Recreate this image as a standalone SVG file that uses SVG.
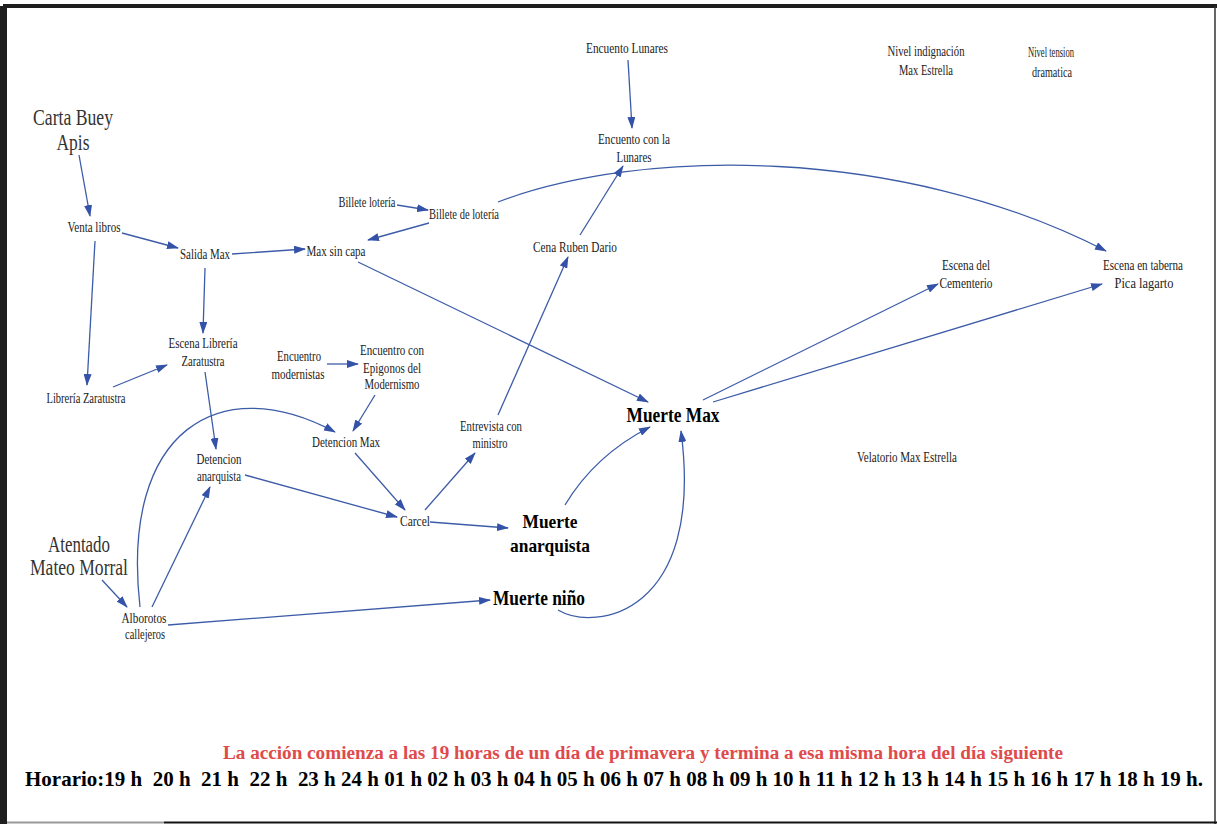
<svg xmlns="http://www.w3.org/2000/svg" width="1217" height="824" viewBox="0 0 1217 824">
<style>
.lbl{font-family:"Liberation Serif","Times New Roman",serif;font-size:14px;fill:#222;text-anchor:middle}
.big{font-size:23px;fill:#333}
.bold{font-weight:bold;fill:#000;font-size:21px}
.c{fill:none;stroke:#3d5ca8;stroke-width:1.3;marker-end:url(#ah)}
.red{font-family:"Liberation Serif","Times New Roman",serif;font-weight:bold;font-size:18px;fill:#df4a4a;text-anchor:middle}
.hor{font-family:"Liberation Serif","Times New Roman",serif;font-weight:bold;font-size:21px;fill:#000}
</style>
<defs>
<marker id="ah" markerUnits="userSpaceOnUse" markerWidth="12" markerHeight="8" refX="11" refY="4" orient="auto">
<path d="M0,0 L12,4 L0,8 z" fill="#3352a8"/>
</marker>
</defs>
<rect width="1217" height="824" fill="#fff"/>
<g id="frame">
<rect x="0" y="6" width="7" height="818" fill="#1e1e1e"/>
<rect x="3" y="4" width="1214" height="4" fill="#1e1e1e"/>
<line x1="1215" y1="6" x2="1215" y2="824" stroke="#333" stroke-width="1.5"/>
<line x1="7" y1="822.5" x2="164" y2="822.5" stroke="#999" stroke-width="2"/>
<line x1="164" y1="822.5" x2="1217" y2="822.5" stroke="#111" stroke-width="2"/>
</g>
<g id="connectors">
<path class="c" d="M79,155 L90,216"/>
<path class="c" d="M122,233 L178,248"/>
<path class="c" d="M232,254 L305,249"/>
<path class="c" d="M397,205 L428,210"/>
<path class="c" d="M429,223 L368,240"/>
<path class="c" d="M498,202 C640,148 900,145 1106,251"/>
<path class="c" d="M628,60 L632,128"/>
<path class="c" d="M580,235 L623,166"/>
<path class="c" d="M498,415 L568,257"/>
<path class="c" d="M358,262 L648,402"/>
<path class="c" d="M205,268 L203,333"/>
<path class="c" d="M95,241 L87,385"/>
<path class="c" d="M113,387 L167,365"/>
<path class="c" d="M205,372 L216,449"/>
<path class="c" d="M327,364 L358,364"/>
<path class="c" d="M375,395 L353,431"/>
<path class="c" d="M140,607 C120,430 220,370 335,432"/>
<path class="c" d="M152,607 L210,487"/>
<path class="c" d="M102,580 L127,607"/>
<path class="c" d="M168,625 L490,600"/>
<path class="c" d="M245,475 L397,517"/>
<path class="c" d="M355,453 L405,510"/>
<path class="c" d="M425,510 L475,453"/>
<path class="c" d="M430,522 L508,528"/>
<path class="c" d="M565,505 Q595,455 650,427"/>
<path class="c" d="M558,610 C595,632 705,615 681,431"/>
<path class="c" d="M703,400 L938,284"/>
<path class="c" d="M713,402 L1102,284"/>
</g>
<g id="n-carta"><text class="lbl big" x="73" y="125" textLength="80" lengthAdjust="spacingAndGlyphs">Carta Buey</text><text class="lbl big" x="73" y="150" textLength="33" lengthAdjust="spacingAndGlyphs">Apis</text></g>
<g id="n-venta"><text class="lbl" x="94" y="232" textLength="53" lengthAdjust="spacingAndGlyphs">Venta libros</text></g>
<g id="n-salida"><text class="lbl" x="205" y="259" textLength="50" lengthAdjust="spacingAndGlyphs">Salida Max</text></g>
<g id="n-maxsincapa"><text class="lbl" x="336" y="256" textLength="59" lengthAdjust="spacingAndGlyphs">Max sin capa</text></g>
<g id="n-billete1"><text class="lbl" x="367" y="207" textLength="57" lengthAdjust="spacingAndGlyphs">Billete lotería</text></g>
<g id="n-billete2"><text class="lbl" x="464" y="219" textLength="70" lengthAdjust="spacingAndGlyphs">Billete de lotería</text></g>
<g id="n-enclunares"><text class="lbl" x="627" y="53" textLength="82" lengthAdjust="spacingAndGlyphs">Encuento Lunares</text></g>
<g id="n-encconlunares"><text class="lbl" x="634" y="144" textLength="72" lengthAdjust="spacingAndGlyphs">Encuento con la</text><text class="lbl" x="634" y="162" textLength="35" lengthAdjust="spacingAndGlyphs">Lunares</text></g>
<g id="n-cena"><text class="lbl" x="575" y="252" textLength="84" lengthAdjust="spacingAndGlyphs">Cena Ruben Dario</text></g>
<g id="n-nivelind"><text class="lbl" x="926" y="56" textLength="77" lengthAdjust="spacingAndGlyphs">Nivel indignación</text><text class="lbl" x="926" y="75" textLength="54" lengthAdjust="spacingAndGlyphs">Max Estrella</text></g>
<g id="n-niveltension"><text class="lbl" x="1051" y="57" textLength="46" lengthAdjust="spacingAndGlyphs">Nivel tension</text><text class="lbl" x="1052" y="77" textLength="40" lengthAdjust="spacingAndGlyphs">dramatica</text></g>
<g id="n-cementerio"><text class="lbl" x="966" y="270" textLength="48" lengthAdjust="spacingAndGlyphs">Escena del</text><text class="lbl" x="966" y="288" textLength="53" lengthAdjust="spacingAndGlyphs">Cementerio</text></g>
<g id="n-taberna"><text class="lbl" x="1143" y="270" textLength="80" lengthAdjust="spacingAndGlyphs">Escena en taberna</text><text class="lbl" x="1144" y="288" textLength="59" lengthAdjust="spacingAndGlyphs">Pica lagarto</text></g>
<g id="n-escenalib"><text class="lbl" x="203" y="348" textLength="69" lengthAdjust="spacingAndGlyphs">Escena Librería</text><text class="lbl" x="203" y="366" textLength="43" lengthAdjust="spacingAndGlyphs">Zaratustra</text></g>
<g id="n-libzar"><text class="lbl" x="86" y="403" textLength="79" lengthAdjust="spacingAndGlyphs">Librería Zaratustra</text></g>
<g id="n-encmod"><text class="lbl" x="299" y="361" textLength="44" lengthAdjust="spacingAndGlyphs">Encuentro</text><text class="lbl" x="298" y="379" textLength="53" lengthAdjust="spacingAndGlyphs">modernistas</text></g>
<g id="n-epigonos"><text class="lbl" x="392" y="355" textLength="64" lengthAdjust="spacingAndGlyphs">Encuentro con</text><text class="lbl" x="392" y="373" textLength="58" lengthAdjust="spacingAndGlyphs">Epigonos del</text><text class="lbl" x="392" y="389" textLength="55" lengthAdjust="spacingAndGlyphs">Modernismo</text></g>
<g id="n-detmax"><text class="lbl" x="346" y="447" textLength="68" lengthAdjust="spacingAndGlyphs">Detencion Max</text></g>
<g id="n-entrevista"><text class="lbl" x="491" y="431" textLength="62" lengthAdjust="spacingAndGlyphs">Entrevista con</text><text class="lbl" x="490" y="448" textLength="35" lengthAdjust="spacingAndGlyphs">ministro</text></g>
<g id="n-detanar"><text class="lbl" x="219" y="464" textLength="45" lengthAdjust="spacingAndGlyphs">Detencion</text><text class="lbl" x="219" y="481" textLength="44" lengthAdjust="spacingAndGlyphs">anarquista</text></g>
<g id="n-carcel"><text class="lbl" x="415" y="526" textLength="30" lengthAdjust="spacingAndGlyphs">Carcel</text></g>
<g id="n-muertemax"><text class="lbl bold" x="673" y="422" textLength="93" lengthAdjust="spacingAndGlyphs">Muerte Max</text></g>
<g id="n-muerteanar"><text class="lbl bold" x="550" y="528" textLength="55" lengthAdjust="spacingAndGlyphs" style="font-size:19px">Muerte</text><text class="lbl bold" x="550" y="552" textLength="80" lengthAdjust="spacingAndGlyphs" style="font-size:19px">anarquista</text></g>
<g id="n-muertenino"><text class="lbl bold" x="539" y="605" textLength="92" lengthAdjust="spacingAndGlyphs">Muerte niño</text></g>
<g id="n-velatorio"><text class="lbl" x="907" y="462" textLength="100" lengthAdjust="spacingAndGlyphs">Velatorio Max Estrella</text></g>
<g id="n-atentado"><text class="lbl big" x="79" y="552" textLength="62" lengthAdjust="spacingAndGlyphs">Atentado</text><text class="lbl big" x="79" y="575" textLength="98" lengthAdjust="spacingAndGlyphs">Mateo Morral</text></g>
<g id="n-alborotos"><text class="lbl" x="144" y="623" textLength="45" lengthAdjust="spacingAndGlyphs">Alborotos</text><text class="lbl" x="145" y="639" textLength="40" lengthAdjust="spacingAndGlyphs">callejeros</text></g>
<g id="caption"><text class="red" x="643" y="759" textLength="840" lengthAdjust="spacingAndGlyphs">La acción comienza a las 19 horas de un día de primavera y termina a esa misma hora del día siguiente</text></g>
<g id="horario"><text class="hor" x="25" y="786" textLength="1178" lengthAdjust="spacingAndGlyphs" style="white-space:pre">Horario:19 h  20 h  21 h  22 h  23 h 24 h 01 h 02 h 03 h 04 h 05 h 06 h 07 h 08 h 09 h 10 h 11 h 12 h 13 h 14 h 15 h 16 h 17 h 18 h 19 h.</text></g>
</svg>
